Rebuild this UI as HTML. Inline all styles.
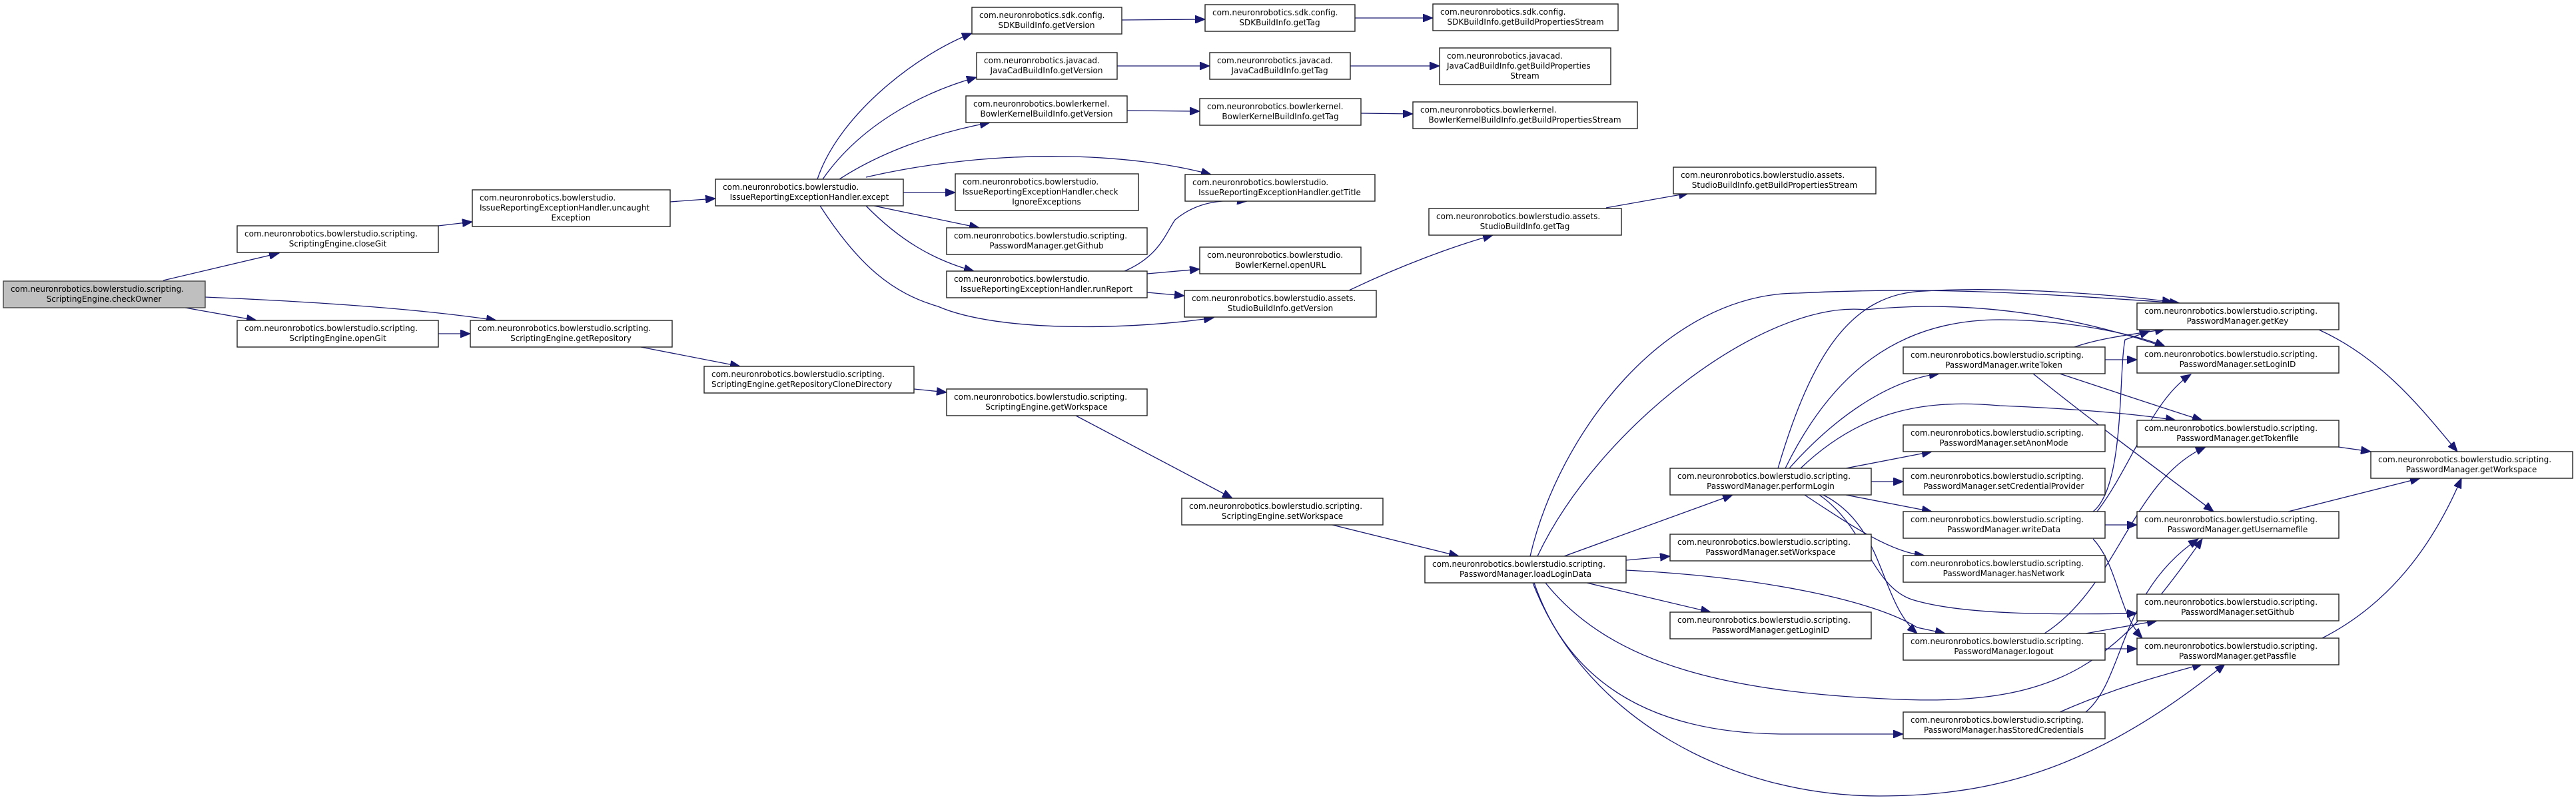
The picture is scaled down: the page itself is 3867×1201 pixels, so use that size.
<!DOCTYPE html>
<html><head><meta charset="utf-8"><style>
html,body{margin:0;padding:0;background:#fff;}
svg{display:block;}
text{font-family:"DejaVu Sans","Liberation Sans",sans-serif;font-size:12px;fill:#000;}
.b{fill:#fff;stroke:#222;stroke-width:1.4;}
.g{fill:#bfbfbf;stroke:#444;stroke-width:1.4;}
.e{fill:none;stroke:#191970;stroke-width:1.3;}
</style></head><body>
<svg width="3867" height="1201" viewBox="0 0 3867 1201" xmlns="http://www.w3.org/2000/svg">
<defs><marker id="a" markerUnits="userSpaceOnUse" markerWidth="16" markerHeight="12" refX="15" refY="6" orient="auto"><path d="M0,0 L15,6 L0,12 z" fill="#191970" stroke="#191970"/></marker></defs>

<g class="e" marker-end="url(#a)">
<path d="M245,421 L419,380"/>
<path d="M278,462 L385,481"/>
<path d="M308,446 C450,452 620,462 745,481"/>
<path d="M658,339 L709,333"/>
<path d="M1006,303 L1074,298"/>
<path d="M658,501 L706,501"/>
<path d="M962,521 L1111,550"/>
<path d="M1372,584 L1421,589"/>
<path d="M1615,624 L1850,748"/>
<path d="M2000,788 L2190,835"/>
<path d="M1227,269 C1260,170 1380,80 1459,50"/>
<path d="M1235,269 C1290,190 1380,140 1466,116"/>
<path d="M1260,269 C1320,230 1400,200 1486,184"/>
<path d="M1300,266 C1500,220 1700,230 1818,262"/>
<path d="M1356,289 L1434,289"/>
<path d="M1312,309 L1470,342"/>
<path d="M1300,309 C1350,360 1400,390 1462,407"/>
<path d="M1231,309 C1290,400 1340,440 1408,460 C1500,500 1700,495 1822,477"/>
<path d="M1688,407 C1740,385 1750,350 1764,330 C1800,300 1840,300 1872,302"/>
<path d="M1722,411 L1801,404"/>
<path d="M1722,439 L1778,444"/>
<path d="M1684,30 L1809,29"/>
<path d="M2034,27 L2151,27"/>
<path d="M1677,99 L1816,99"/>
<path d="M2027,99 L2161,99"/>
<path d="M1692,166 L1801,167"/>
<path d="M2043,170 L2121,171"/>
<path d="M2025,436 C2100,400 2180,370 2241,353"/>
<path d="M2411,312 L2535,290"/>
<path d="M2348,835 L2601,743"/>
<path d="M2441,841 L2507,835"/>
<path d="M2382,875 L2568,919"/>
<path d="M2441,856 C2641,866 2810,900 2878,942 L2920,951"/>
<path d="M2297,835 C2340,650 2500,440 2700,440 C2900,430 3050,440 3272,455"/>
<path d="M2308,835 C2400,640 2650,450 2800,465 C2950,450 3100,470 3250,521"/>
<path d="M2320,875 C2420,1000 2600,1040 2850,1050 C3100,1060 3180,990 3306,809"/>
<path d="M2303,875 C2360,1040 2500,1102 2680,1102 L2857,1102"/>
<path d="M2301,875 C2380,1080 2600,1195 2821,1195 C3000,1195 3150,1150 3340,997"/>
<path d="M2669,703 C2720,530 2780,440 2889,437 C3000,430 3150,440 3261,453"/>
<path d="M2680,703 C2750,560 2850,480 3002,480 C3100,480 3200,500 3250,520"/>
<path d="M2686,703 C2760,620 2840,570 2911,561"/>
<path d="M2703,703 C2800,610 2900,600 3002,609 C3150,615 3230,625 3266,631"/>
<path d="M2771,703 L2900,678"/>
<path d="M2809,723 L2857,723"/>
<path d="M2771,743 L2900,768"/>
<path d="M2709,743 C2780,790 2840,830 2889,834"/>
<path d="M2731,743 C2800,790 2810,880 2870,900 C2950,925 3100,922 3208,921"/>
<path d="M2737,743 C2830,790 2820,900 2878,951"/>
<path d="M3114,521 C3160,505 3220,500 3250,494"/>
<path d="M3160,540 L3208,540"/>
<path d="M3092,561 C3180,590 3270,620 3306,631"/>
<path d="M3052,561 C3150,640 3260,720 3323,768"/>
<path d="M3142,768 C3190,730 3180,560 3190,510 L3227,497"/>
<path d="M3148,768 C3200,700 3230,600 3289,562"/>
<path d="M3160,788 L3208,788"/>
<path d="M3142,809 C3180,850 3180,920 3216,958"/>
<path d="M3069,951 C3180,880 3200,720 3311,671"/>
<path d="M3131,951 L3238,932"/>
<path d="M3160,974 L3208,974"/>
<path d="M3092,1069 C3180,1030 3260,1010 3306,997"/>
<path d="M3131,1069 C3190,1020 3180,890 3300,809"/>
<path d="M3481,495 C3580,540 3640,620 3689,678"/>
<path d="M3510,671 L3559,678"/>
<path d="M3435,768 L3633,718"/>
<path d="M3486,958 C3600,900 3660,800 3695,718"/>
</g>

<g>
<rect class="g" x="5" y="422" width="303" height="40"/>
<text x="16" y="438">com.neuronrobotics.bowlerstudio.scripting.</text><text x="156" y="453" text-anchor="middle">ScriptingEngine.checkOwner</text>
<rect class="b" x="356" y="339" width="302" height="40"/>
<text x="367" y="355">com.neuronrobotics.bowlerstudio.scripting.</text><text x="507" y="370" text-anchor="middle">ScriptingEngine.closeGit</text>
<rect class="b" x="709" y="285" width="297" height="55"/>
<text x="720" y="301">com.neuronrobotics.bowlerstudio.</text><text x="720" y="316">IssueReportingExceptionHandler.uncaught</text><text x="857" y="331" text-anchor="middle">Exception</text>
<rect class="b" x="1074" y="269" width="282" height="40"/>
<text x="1085" y="285">com.neuronrobotics.bowlerstudio.</text><text x="1215" y="300" text-anchor="middle">IssueReportingExceptionHandler.except</text>
<rect class="b" x="356" y="481" width="302" height="40"/>
<text x="367" y="497">com.neuronrobotics.bowlerstudio.scripting.</text><text x="507" y="512" text-anchor="middle">ScriptingEngine.openGit</text>
<rect class="b" x="706" y="481" width="303" height="40"/>
<text x="717" y="497">com.neuronrobotics.bowlerstudio.scripting.</text><text x="857" y="512" text-anchor="middle">ScriptingEngine.getRepository</text>
<rect class="b" x="1057" y="550" width="315" height="40"/>
<text x="1068" y="566">com.neuronrobotics.bowlerstudio.scripting.</text><text x="1068" y="581">ScriptingEngine.getRepositoryCloneDirectory</text>
<rect class="b" x="1421" y="584" width="301" height="40"/>
<text x="1432" y="600">com.neuronrobotics.bowlerstudio.scripting.</text><text x="1571" y="615" text-anchor="middle">ScriptingEngine.getWorkspace</text>
<rect class="b" x="1774" y="748" width="302" height="40"/>
<text x="1785" y="764">com.neuronrobotics.bowlerstudio.scripting.</text><text x="1925" y="779" text-anchor="middle">ScriptingEngine.setWorkspace</text>
<rect class="b" x="1459" y="11" width="225" height="40"/>
<text x="1470" y="27">com.neuronrobotics.sdk.config.</text><text x="1571" y="42" text-anchor="middle">SDKBuildInfo.getVersion</text>
<rect class="b" x="1809" y="7" width="225" height="40"/>
<text x="1820" y="23">com.neuronrobotics.sdk.config.</text><text x="1921" y="38" text-anchor="middle">SDKBuildInfo.getTag</text>
<rect class="b" x="2151" y="6" width="278" height="40"/>
<text x="2162" y="22">com.neuronrobotics.sdk.config.</text><text x="2290" y="37" text-anchor="middle">SDKBuildInfo.getBuildPropertiesStream</text>
<rect class="b" x="1466" y="79" width="211" height="40"/>
<text x="1477" y="95">com.neuronrobotics.javacad.</text><text x="1571" y="110" text-anchor="middle">JavaCadBuildInfo.getVersion</text>
<rect class="b" x="1816" y="79" width="211" height="40"/>
<text x="1827" y="95">com.neuronrobotics.javacad.</text><text x="1921" y="110" text-anchor="middle">JavaCadBuildInfo.getTag</text>
<rect class="b" x="2161" y="72" width="257" height="55"/>
<text x="2172" y="88">com.neuronrobotics.javacad.</text><text x="2172" y="103">JavaCadBuildInfo.getBuildProperties</text><text x="2289" y="118" text-anchor="middle">Stream</text>
<rect class="b" x="1450" y="144" width="242" height="40"/>
<text x="1461" y="160">com.neuronrobotics.bowlerkernel.</text><text x="1571" y="175" text-anchor="middle">BowlerKernelBuildInfo.getVersion</text>
<rect class="b" x="1801" y="148" width="242" height="40"/>
<text x="1812" y="164">com.neuronrobotics.bowlerkernel.</text><text x="1922" y="179" text-anchor="middle">BowlerKernelBuildInfo.getTag</text>
<rect class="b" x="2121" y="153" width="337" height="40"/>
<text x="2132" y="169">com.neuronrobotics.bowlerkernel.</text><text x="2289" y="184" text-anchor="middle">BowlerKernelBuildInfo.getBuildPropertiesStream</text>
<rect class="b" x="1434" y="261" width="275" height="55"/>
<text x="1445" y="277">com.neuronrobotics.bowlerstudio.</text><text x="1445" y="292">IssueReportingExceptionHandler.check</text><text x="1571" y="307" text-anchor="middle">IgnoreExceptions</text>
<rect class="b" x="1779" y="262" width="285" height="40"/>
<text x="1790" y="278">com.neuronrobotics.bowlerstudio.</text><text x="1921" y="293" text-anchor="middle">IssueReportingExceptionHandler.getTitle</text>
<rect class="b" x="1421" y="342" width="301" height="40"/>
<text x="1432" y="358">com.neuronrobotics.bowlerstudio.scripting.</text><text x="1571" y="373" text-anchor="middle">PasswordManager.getGithub</text>
<rect class="b" x="1421" y="407" width="301" height="40"/>
<text x="1432" y="423">com.neuronrobotics.bowlerstudio.</text><text x="1571" y="438" text-anchor="middle">IssueReportingExceptionHandler.runReport</text>
<rect class="b" x="1801" y="371" width="242" height="40"/>
<text x="1812" y="387">com.neuronrobotics.bowlerstudio.</text><text x="1922" y="402" text-anchor="middle">BowlerKernel.openURL</text>
<rect class="b" x="1778" y="436" width="288" height="40"/>
<text x="1789" y="452">com.neuronrobotics.bowlerstudio.assets.</text><text x="1922" y="467" text-anchor="middle">StudioBuildInfo.getVersion</text>
<rect class="b" x="2145" y="313" width="289" height="40"/>
<text x="2156" y="329">com.neuronrobotics.bowlerstudio.assets.</text><text x="2289" y="344" text-anchor="middle">StudioBuildInfo.getTag</text>
<rect class="b" x="2512" y="251" width="304" height="40"/>
<text x="2523" y="267">com.neuronrobotics.bowlerstudio.assets.</text><text x="2664" y="282" text-anchor="middle">StudioBuildInfo.getBuildPropertiesStream</text>
<rect class="b" x="2139" y="835" width="302" height="40"/>
<text x="2150" y="851">com.neuronrobotics.bowlerstudio.scripting.</text><text x="2290" y="866" text-anchor="middle">PasswordManager.loadLoginData</text>
<rect class="b" x="2507" y="703" width="302" height="40"/>
<text x="2518" y="719">com.neuronrobotics.bowlerstudio.scripting.</text><text x="2658" y="734" text-anchor="middle">PasswordManager.performLogin</text>
<rect class="b" x="2507" y="802" width="302" height="40"/>
<text x="2518" y="818">com.neuronrobotics.bowlerstudio.scripting.</text><text x="2658" y="833" text-anchor="middle">PasswordManager.setWorkspace</text>
<rect class="b" x="2507" y="919" width="302" height="40"/>
<text x="2518" y="935">com.neuronrobotics.bowlerstudio.scripting.</text><text x="2658" y="950" text-anchor="middle">PasswordManager.getLoginID</text>
<rect class="b" x="2857" y="521" width="303" height="40"/>
<text x="2868" y="537">com.neuronrobotics.bowlerstudio.scripting.</text><text x="3008" y="552" text-anchor="middle">PasswordManager.writeToken</text>
<rect class="b" x="2857" y="638" width="303" height="40"/>
<text x="2868" y="654">com.neuronrobotics.bowlerstudio.scripting.</text><text x="3008" y="669" text-anchor="middle">PasswordManager.setAnonMode</text>
<rect class="b" x="2857" y="703" width="303" height="40"/>
<text x="2868" y="719">com.neuronrobotics.bowlerstudio.scripting.</text><text x="3008" y="734" text-anchor="middle">PasswordManager.setCredentialProvider</text>
<rect class="b" x="2857" y="768" width="303" height="40"/>
<text x="2868" y="784">com.neuronrobotics.bowlerstudio.scripting.</text><text x="3008" y="799" text-anchor="middle">PasswordManager.writeData</text>
<rect class="b" x="2857" y="834" width="303" height="40"/>
<text x="2868" y="850">com.neuronrobotics.bowlerstudio.scripting.</text><text x="3008" y="865" text-anchor="middle">PasswordManager.hasNetwork</text>
<rect class="b" x="2857" y="951" width="303" height="40"/>
<text x="2868" y="967">com.neuronrobotics.bowlerstudio.scripting.</text><text x="3008" y="982" text-anchor="middle">PasswordManager.logout</text>
<rect class="b" x="2857" y="1069" width="303" height="40"/>
<text x="2868" y="1085">com.neuronrobotics.bowlerstudio.scripting.</text><text x="3008" y="1100" text-anchor="middle">PasswordManager.hasStoredCredentials</text>
<rect class="b" x="3208" y="455" width="303" height="40"/>
<text x="3219" y="471">com.neuronrobotics.bowlerstudio.scripting.</text><text x="3359" y="486" text-anchor="middle">PasswordManager.getKey</text>
<rect class="b" x="3208" y="520" width="303" height="40"/>
<text x="3219" y="536">com.neuronrobotics.bowlerstudio.scripting.</text><text x="3359" y="551" text-anchor="middle">PasswordManager.setLoginID</text>
<rect class="b" x="3208" y="631" width="303" height="40"/>
<text x="3219" y="647">com.neuronrobotics.bowlerstudio.scripting.</text><text x="3359" y="662" text-anchor="middle">PasswordManager.getTokenfile</text>
<rect class="b" x="3208" y="768" width="303" height="40"/>
<text x="3219" y="784">com.neuronrobotics.bowlerstudio.scripting.</text><text x="3359" y="799" text-anchor="middle">PasswordManager.getUsernamefile</text>
<rect class="b" x="3208" y="892" width="303" height="40"/>
<text x="3219" y="908">com.neuronrobotics.bowlerstudio.scripting.</text><text x="3359" y="923" text-anchor="middle">PasswordManager.setGithub</text>
<rect class="b" x="3208" y="958" width="303" height="40"/>
<text x="3219" y="974">com.neuronrobotics.bowlerstudio.scripting.</text><text x="3359" y="989" text-anchor="middle">PasswordManager.getPassfile</text>
<rect class="b" x="3559" y="678" width="303" height="40"/>
<text x="3570" y="694">com.neuronrobotics.bowlerstudio.scripting.</text><text x="3710" y="709" text-anchor="middle">PasswordManager.getWorkspace</text>
</g>
</svg>
</body></html>
